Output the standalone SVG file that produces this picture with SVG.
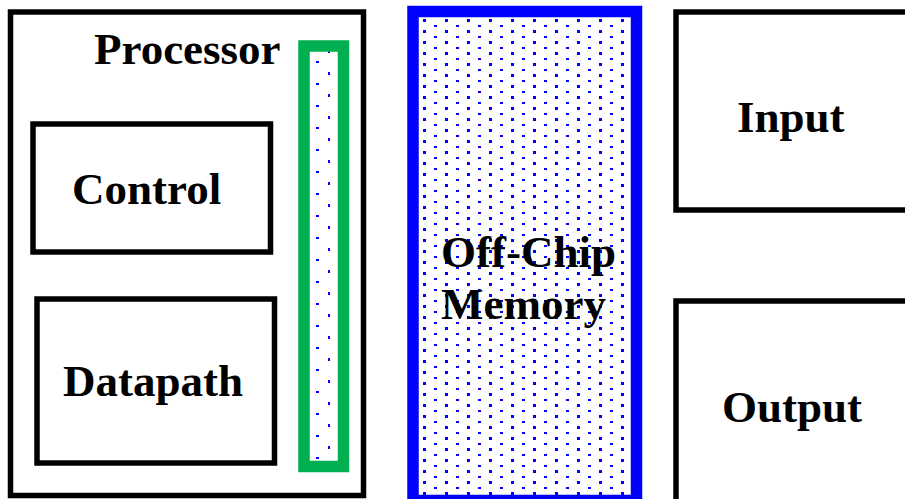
<svg xmlns="http://www.w3.org/2000/svg" width="905" height="499" viewBox="0 0 905 499">
  <style>
    .box { fill: none; stroke: #000; stroke-width: 5.5; }
    .lbl { font-family: "Liberation Serif", "Times New Roman", serif; font-weight: bold; font-size: 45px; fill: #000; }
    .dot { fill: #0000ff; shape-rendering: crispEdges; }
  </style>
  <defs>
    <!-- staggered blue dot screen for the memory block -->
    <pattern id="dotsMem" patternUnits="userSpaceOnUse" x="423" y="19" width="22" height="11">
      <rect class="dot" x="0" y="0" width="2.5" height="2.5"/>
      <rect class="dot" x="11" y="5.5" width="2.5" height="2.5"/>
    </pattern>
    <!-- sparser dot screen for the processor-side bus -->
    <pattern id="dotsBus" patternUnits="userSpaceOnUse" x="316" y="248" width="22" height="22">
      <rect class="dot" x="0" y="11" width="2.5" height="2" />
      <rect class="dot" x="11.5" y="0" width="2.5" height="2.5"/>
    </pattern>
  </defs>

  <rect width="905" height="499" fill="#fff"/>

  <g id="processor">
    <rect class="box" x="10.5" y="12" width="353" height="483.5"/>
    <text class="lbl" x="94" y="64">Processor</text>
  </g>

  <g id="control">
    <rect class="box" x="33" y="124" width="237.5" height="128"/>
    <text class="lbl" x="72" y="204">Control</text>
  </g>

  <g id="datapath">
    <rect class="box" x="37" y="299" width="237.5" height="164"/>
    <text class="lbl" x="63" y="396">Datapath</text>
  </g>

  <g id="bus">
    <rect x="304" y="46" width="39.5" height="420.5" fill="url(#dotsBus)" stroke="#00b050" stroke-width="11.5"/>
  </g>

  <g id="memory">
    <rect x="413" y="11.5" width="223.5" height="489" fill="url(#dotsMem)" stroke="#0000ff" stroke-width="11.5"/>
    <text class="lbl" x="441" y="267">Off-Chip</text>
    <text class="lbl" x="441" y="319">Memory</text>
  </g>

  <g id="input">
    <rect class="box" x="676" y="12" width="240" height="198"/>
    <text class="lbl" x="737" y="132">Input</text>
  </g>

  <g id="output">
    <rect class="box" x="676" y="301" width="240" height="210"/>
    <text class="lbl" x="722" y="422">Output</text>
  </g>

  <g id="connectors"></g>
</svg>
